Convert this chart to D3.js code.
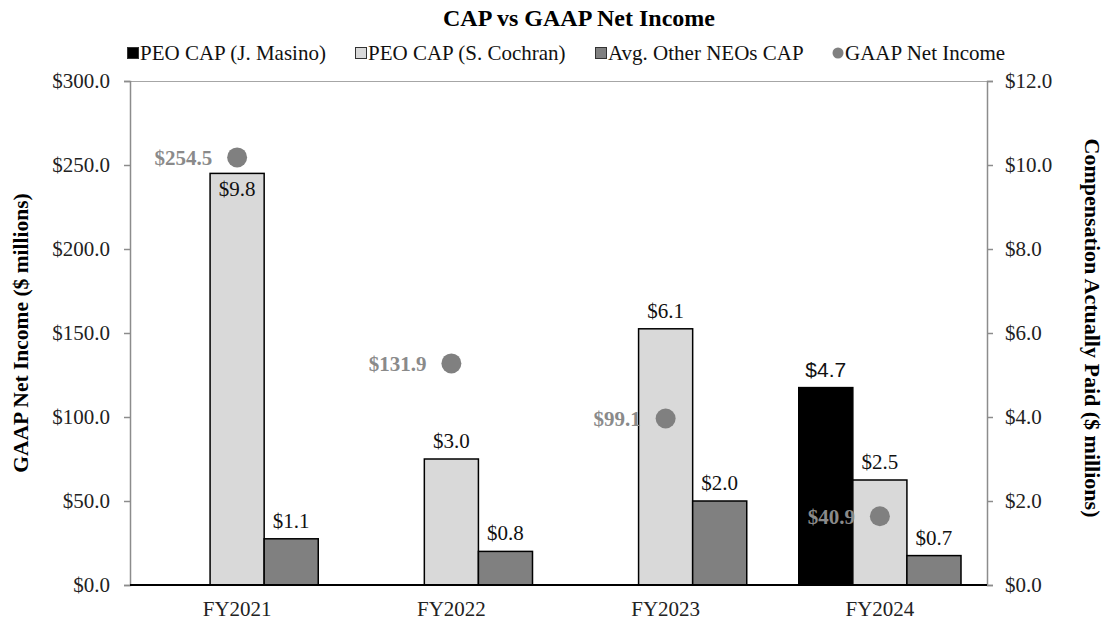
<!DOCTYPE html>
<html>
<head>
<meta charset="utf-8">
<script src="https://cdn.jsdelivr.net/npm/d3@7"></script>
<style>
  html, body { margin: 0; padding: 0; background: #fff; }
  svg { display: block; font-family: "Liberation Serif", "Times New Roman", serif; }
</style>
</head>
<body>
<svg id="chart" width="1107" height="625"></svg>
<script>
// Fiscal years and values ($ millions)
const categories = ["FY2021", "FY2022", "FY2023", "FY2024"];
const capMasino = [null, null, null, 4.7];
const capCochran = [9.8, 3.0, 6.1, 2.5];
const capOtherNeos = [1.1, 0.8, 2.0, 0.7];
const gaapNetIncome = [254.5, 131.9, 99.1, 40.9];
const leftTicks = [0, 50, 100, 150, 200, 250, 300];
const rightTicks = [0, 2, 4, 6, 8, 10, 12];

const seriesNames = ["PEO CAP (J. Masino)", "PEO CAP (S. Cochran)", "Avg. Other NEOs CAP"];
const seriesColors = ["#000000", "#d9d9d9", "#808080"];
const dotColor = "#808080";
const dotLabelColor = "#8a8a8a";

const svg = d3.select("#chart");
const m = { left: 130, right: 987, top: 81, bottom: 585 };

const x = d3.scaleBand().domain(categories).range([m.left, m.right]).paddingInner(0).paddingOuter(0);
const groupPad = 26;
const xs = d3.scaleBand().domain([0, 1, 2]).range([groupPad, x.bandwidth() - groupPad]).padding(0);
const yLeft = d3.scaleLinear().domain([0, 300]).range([m.bottom, m.top]);
const yRight = d3.scaleLinear().domain([0, 12]).range([m.bottom, m.top]);
const money = d => "$" + d3.format(".1f")(d);

// Title
svg.append("text")
  .attr("x", 579).attr("y", 26)
  .attr("text-anchor", "middle")
  .attr("font-size", 24).attr("font-weight", "bold")
  .text("CAP vs GAAP Net Income");

// Legend
const legendItems = [
  { name: seriesNames[0], color: seriesColors[0], x: 127, shape: "rect" },
  { name: seriesNames[1], color: seriesColors[1], x: 355, shape: "rect" },
  { name: seriesNames[2], color: seriesColors[2], x: 595, shape: "rect" },
  { name: "GAAP Net Income", color: dotColor, x: 832, shape: "circle" }
];
const lg = svg.append("g");
legendItems.forEach(d => {
  if (d.shape === "rect") {
    lg.append("rect").attr("x", d.x + 0.5).attr("y", 47.5).attr("width", 11).attr("height", 11)
      .attr("fill", d.color).attr("stroke", "#333").attr("stroke-width", 1);
  } else {
    lg.append("circle").attr("cx", d.x + 6).attr("cy", 53).attr("r", 5.5).attr("fill", d.color);
  }
  lg.append("text").attr("x", d.x + 13).attr("y", 60)
    .attr("font-size", 21).attr("fill", "#111").text(d.name);
});

// Plot area top border
svg.append("line")
  .attr("x1", m.left).attr("x2", m.right).attr("y1", m.top + 0.5).attr("y2", m.top + 0.5)
  .attr("stroke", "#a6a6a6").attr("stroke-width", 1);

// Left axis
const leftAxis = svg.append("g").attr("transform", `translate(${m.left},0)`)
  .call(d3.axisLeft(yLeft).tickValues(leftTicks).tickSize(6).tickPadding(14).tickFormat(money));
leftAxis.select(".domain").attr("stroke", "#8c8c8c").attr("stroke-width", 1.5);
leftAxis.selectAll(".tick line").attr("stroke", "#8c8c8c").attr("stroke-width", 1.5);
leftAxis.selectAll(".tick text").attr("font-size", 21).attr("fill", "#222")
  .attr("font-family", "Liberation Serif, serif");

// Right axis
const rightAxis = svg.append("g").attr("transform", `translate(${m.right},0)`)
  .call(d3.axisRight(yRight).tickValues(rightTicks).tickSize(6).tickPadding(12).tickFormat(money));
rightAxis.select(".domain").attr("stroke", "#8c8c8c").attr("stroke-width", 1.5);
rightAxis.selectAll(".tick line").attr("stroke", "#8c8c8c").attr("stroke-width", 1.5);
rightAxis.selectAll(".tick text").attr("font-size", 21).attr("fill", "#222")
  .attr("font-family", "Liberation Serif, serif");

// Axis titles
svg.append("text")
  .attr("transform", "translate(28,333) rotate(-90)")
  .attr("text-anchor", "middle").attr("font-size", 21.5).attr("font-weight", "bold")
  .text("GAAP Net Income ($ millions)");
svg.append("text")
  .attr("transform", "translate(1085,328) rotate(90)")
  .attr("text-anchor", "middle").attr("font-size", 22).attr("font-weight", "bold")
  .text("Compensation Actually Paid ($ millions)");

// Bars
const seriesValues = [capMasino, capCochran, capOtherNeos];
const bars = svg.append("g");
seriesValues.forEach((vals, si) => {
  vals.forEach((v, ci) => {
    if (v == null) return;
    const bx = x(categories[ci]) + xs(si);
    const by = yRight(v);
    bars.append("rect")
      .attr("x", bx).attr("y", by)
      .attr("width", xs.bandwidth()).attr("height", yRight(0) - by)
      .attr("fill", seriesColors[si]).attr("stroke", "#000").attr("stroke-width", 1.5);
  });
});

// X axis baseline and labels
svg.append("line")
  .attr("x1", m.left).attr("x2", m.right).attr("y1", m.bottom).attr("y2", m.bottom)
  .attr("stroke", "#000").attr("stroke-width", 2);
const xAxis = svg.append("g").attr("transform", `translate(0,${m.bottom})`)
  .call(d3.axisBottom(x).tickSize(0).tickPadding(16));
xAxis.select(".domain").remove();
xAxis.selectAll(".tick text").attr("font-size", 21).attr("fill", "#222")
  .attr("font-family", "Liberation Serif, serif");

// Bar value labels
const barLabels = svg.append("g");
seriesValues.forEach((vals, si) => {
  vals.forEach((v, ci) => {
    if (v == null) return;
    const cx = x(categories[ci]) + xs(si) + xs.bandwidth() / 2;
    const top = yRight(v);
    const inside = v > 9;
    barLabels.append("text")
      .attr("x", cx)
      .attr("y", inside ? top + 23 : top - 11)
      .attr("text-anchor", "middle")
      .attr("font-size", 21)
      .attr("font-family", si === 0 ? "Liberation Sans, Arial, sans-serif" : "Liberation Serif, serif")
      .attr("fill", "#111")
      .text(money(v));
  });
});

// GAAP net income dots and labels
const dots = svg.append("g");
gaapNetIncome.forEach((v, ci) => {
  const cx = x(categories[ci]) + x.bandwidth() / 2;
  const cy = yLeft(v);
  dots.append("circle").attr("cx", cx).attr("cy", cy).attr("r", 10).attr("fill", dotColor);
  dots.append("text")
    .attr("x", cx - 25).attr("y", cy + 7.5)
    .attr("text-anchor", "end")
    .attr("font-size", 21).attr("font-weight", "bold")
    .attr("fill", dotLabelColor)
    .text(money(v));
});
</script>
</body>
</html>
